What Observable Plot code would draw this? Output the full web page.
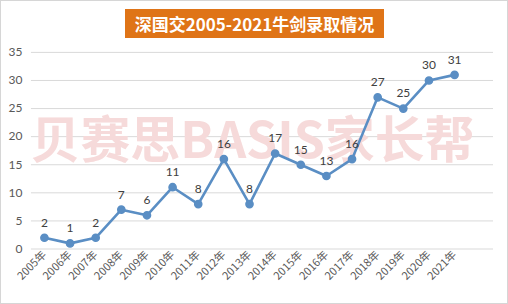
<!DOCTYPE html>
<html><head><meta charset="utf-8">
<script src="https://cdn.jsdelivr.net/npm/d3@7"></script>
<script src="https://cdn.jsdelivr.net/npm/@observablehq/plot@0.6"></script>
<style>
html,body{margin:0;padding:0;background:#fff;}
#wrap{position:relative;width:506px;height:302px;border:1px solid #d6d6d6;overflow:hidden;font-family:Lato,"Noto Sans CJK SC",sans-serif;}
#title{position:absolute;left:124px;top:8px;width:259px;height:29px;background:#df7417;color:#fff;font-family:"Noto Sans CJK SC",sans-serif;font-weight:bold;font-size:17px;line-height:29px;text-align:center;white-space:nowrap;}
#chart{position:absolute;left:-1px;top:-1px;}
</style></head>
<body>
<div id="wrap"><div id="chart"></div><div id="title">深国交2005-2021牛剑录取情况</div></div>
<script>
const years = ["2005年","2006年","2007年","2008年","2009年","2010年","2011年","2012年","2013年","2014年","2015年","2016年","2017年","2018年","2019年","2020年","2021年"];
const admits = [2,1,2,7,6,11,8,16,8,17,15,13,16,27,25,30,31];
const yTicks = [0,5,10,15,20,25,30,35];
const watermark = "贝赛思BASIS家长帮";
const data = years.map((y,i)=>({year:y, value:admits[i]}));
const chart = Plot.plot({
  width: 508, height: 304,
  marginTop: 52, marginBottom: 55, marginLeft: 31, marginRight: 14,
  style: {fontFamily: 'Lato,"Noto Sans CJK SC",sans-serif', fontSize: "11px", color: "#595959", background: "transparent"},
  x: {type: "point", domain: years, range: [44, 455], padding: 0, round: false, label: null},
  y: {domain: [0,35], ticks: yTicks, label: null},
  marks: [
    Plot.ruleY(yTicks, {stroke: "#d9d9d9", strokeWidth: 1}),
    Plot.text([watermark], {frameAnchor: "middle", dx: -10, dy: -9, text: d=>d, fontSize: 50, fontWeight: "bold", fill: "#f6dada", fontFamily: '"Noto Sans CJK SC",sans-serif'}),
    Plot.axisY({ticks: yTicks, tickSize: 0, tickPadding: 9, fill: "#595959", fontSize: 12}),
    Plot.axisX({tickSize: 0, tickRotate: -45, tickPadding: 4, fill: "#595959", fontSize: 11, fontFamily: '"Noto Sans CJK SC",sans-serif'}),
    Plot.line(data, {x: "year", y: "value", stroke: "#5a8ec4", strokeWidth: 2.6}),
    Plot.dot(data, {x: "year", y: "value", r: 3.6, fill: "#5a8ec4", stroke: "#5a8ec4"}),
    Plot.text(data, {x: "year", y: "value", text: d=>String(d.value), dy: -15, fill: "#404040", fontSize: 12})
  ]
});
document.getElementById("chart").appendChild(chart);
</script>
</body></html>
